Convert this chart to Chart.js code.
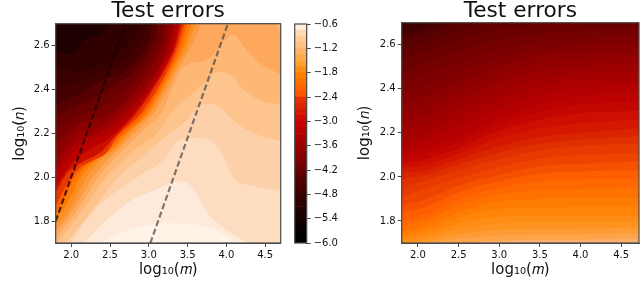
<!DOCTYPE html>
<html>
<head>
<meta charset="utf-8">
<script src="https://cdn.jsdelivr.net/npm/chart.js@4"></script>
<style>
html, body { margin: 0; background: #fff; width: 640px; height: 300px; overflow: hidden; }
canvas { position: absolute; top: 0; filter: blur(0.5px); }
</style>
</head>
<body>
<canvas id="left" width="290" height="300" style="left:0"></canvas>
<canvas id="bar" width="55" height="300" style="left:285px"></canvas>
<canvas id="right" width="295" height="300" style="left:345px"></canvas>
<script>
// tick labels
const xTicks = [2.0, 2.5, 3.0, 3.5, 4.0, 4.5];
const yTicks = [1.8, 2.0, 2.2, 2.4, 2.6];
const barTicks = [-6.0, -5.4, -4.8, -4.2, -3.6, -3.0, -2.4, -1.8, -1.2, -0.6];

// colorbar bands, bottom to top
const barLevels = [-6.0, -5.85, -5.7, -5.55, -5.4, -5.25, -5.1, -4.95, -4.8, -4.65, -4.5, -4.35, -4.2, -4.05, -3.9, -3.75, -3.6, -3.45, -3.3, -3.15, -3.0, -2.85, -2.7, -2.55, -2.4, -2.25, -2.1, -1.95, -1.8, -1.65, -1.5, -1.35, -1.2, -1.05, -0.9, -0.75, -0.6];
const barColors = ['#000000', '#050000', '#0a0000', '#120000', '#1a0000', '#240000', '#2c0000', '#360000', '#400000', '#4a0000', '#560000', '#640000', '#720000', '#7e0000', '#8a0000', '#960000', '#a00000', '#ac0000', '#b80000', '#c40000', '#cf0a00', '#d61800', '#dc2600', '#e23200', '#ff5500', '#ff6400', '#ff7200', '#ff8000', '#ff8f14', '#ffa030', '#ffab4c', '#ffb566', '#ffc080', '#ffcc98', '#ffdab4', '#ffeedd'];

// left panel: contour lines (log10 m, log10 n), lightest first
const leftBase = '#fff2e7';
const c0 = [[1.8, 1.5], [2.35, 1.69], [2.6, 1.74], [2.95, 1.78], [3.4, 1.79], [3.85, 1.76], [4.2, 1.69], [4.7, 1.65]];
const c1 = [[1.8, 1.55], [2.18, 1.705], [2.5, 1.82], [2.8, 1.9], [3.1, 1.945], [3.36, 1.98], [3.55, 1.96], [3.68, 1.88], [3.75, 1.84], [4.0, 1.76], [4.26, 1.705], [4.7, 1.65]];
const c2 = [[1.8, 1.6], [2.0, 1.705], [2.3, 1.85], [2.85, 2.0], [3.19, 2.08], [3.4, 2.17], [3.7, 2.18], [3.92, 2.125], [4.0, 2.065], [4.09, 2.0], [4.35, 1.96], [4.7, 1.94]];
const c3 = [[1.8, 1.66], [1.95, 1.71], [2.3, 1.86], [2.6, 2.0], [2.95, 2.1], [3.2, 2.18], [3.49, 2.26], [3.7, 2.335], [3.92, 2.32], [4.09, 2.26], [4.35, 2.2], [4.7, 2.165]];
const c4 = [[1.8, 1.69], [2.15, 1.85], [2.45, 2.0], [2.8, 2.12], [3.1, 2.2], [3.3, 2.3], [3.66, 2.41], [3.88, 2.48], [4.05, 2.465], [4.22, 2.4], [4.44, 2.35], [4.7, 2.33]];
const c5 = [[1.8, 1.72], [2.08, 1.85], [2.35, 2.0], [2.65, 2.12], [2.95, 2.22], [3.17, 2.3], [3.44, 2.5], [3.75, 2.535], [4.09, 2.65], [4.26, 2.58], [4.43, 2.52], [4.7, 2.47]];
const c6 = [[1.8, 1.75], [2.02, 1.85], [2.28, 2.0], [2.58, 2.12], [2.87, 2.22], [3.08, 2.3], [3.39, 2.5], [3.55, 2.6], [3.72, 2.72], [4.7, 2.85]];
const c7 = [[1.8, 1.78], [1.97, 1.85], [2.2, 2.0], [2.45, 2.1], [2.58, 2.13], [2.8, 2.22], [3.03, 2.3], [3.35, 2.5], [3.5, 2.6], [3.64, 2.72], [4.7, 2.85]];
const c8 = [[1.8, 1.81], [1.93, 1.87], [2.12, 2.0], [2.35, 2.085], [2.5, 2.12], [2.72, 2.2], [3.0, 2.3], [3.32, 2.5], [3.46, 2.6], [3.58, 2.72], [4.7, 2.85]];
const c9 = [[1.8, 1.84], [1.9, 1.9], [2.05, 2.0], [2.25, 2.07], [2.42, 2.1], [2.62, 2.18], [2.96, 2.3], [3.29, 2.5], [3.42, 2.6], [3.52, 2.72], [4.7, 2.85]];
const c10 = [[1.8, 1.87], [1.95, 1.97], [2.1, 2.04], [2.3, 2.08], [2.45, 2.11], [2.58, 2.18], [2.92, 2.3], [3.26, 2.5], [3.38, 2.6], [3.49, 2.72], [4.7, 2.85]];
const c11 = [[1.8, 1.93], [1.95, 2.02], [2.15, 2.07], [2.4, 2.12], [2.55, 2.18], [2.86, 2.3], [3.22, 2.5], [3.35, 2.6], [3.45, 2.72], [4.7, 2.85]];
const c11b = [[1.8, 1.96], [2.0, 2.06], [2.25, 2.13], [2.46, 2.17], [2.83, 2.3], [3.2, 2.5], [3.33, 2.6], [3.42, 2.72], [4.7, 2.85]];
const c12 = [[1.8, 2.0], [2.0, 2.1], [2.3, 2.17], [2.5, 2.2], [2.8, 2.3], [3.18, 2.5], [3.31, 2.6], [3.4, 2.72], [4.7, 2.85]];
const c12b = [[1.8, 2.04], [2.05, 2.15], [2.35, 2.2], [2.76, 2.31], [3.15, 2.5], [3.28, 2.61], [3.36, 2.72], [4.7, 2.85]];
const c13 = [[1.8, 2.08], [2.1, 2.2], [2.37, 2.23], [2.72, 2.33], [3.12, 2.5], [3.26, 2.62], [3.32, 2.72], [4.7, 2.85]];
const c13b = [[1.8, 2.15], [2.1, 2.24], [2.55, 2.3], [3.03, 2.5], [3.2, 2.62], [3.27, 2.72], [4.7, 2.85]];
const c14 = [[1.8, 2.22], [2.1, 2.28], [2.4, 2.32], [2.95, 2.5], [3.15, 2.62], [3.22, 2.72], [4.7, 2.85]];
const c14b = [[1.8, 2.28], [2.1, 2.33], [2.4, 2.38], [2.85, 2.5], [3.07, 2.62], [3.15, 2.72], [4.7, 2.85]];
const c15 = [[1.8, 2.33], [2.1, 2.38], [2.4, 2.44], [2.75, 2.5], [3.0, 2.62], [3.08, 2.72], [4.7, 2.85]];
const c15b = [[1.8, 2.42], [2.1, 2.43], [2.35, 2.47], [2.68, 2.53], [2.93, 2.64], [3.02, 2.72], [4.7, 2.85]];
const c16 = [[1.8, 2.5], [2.1, 2.48], [2.3, 2.5], [2.6, 2.56], [2.85, 2.66], [2.95, 2.72], [4.7, 2.85]];
const c17 = [[1.8, 2.58], [2.0, 2.56], [2.15, 2.62], [2.4, 2.66], [2.55, 2.72], [4.7, 2.85]];
const c18 = [[1.8, 2.85], [4.6, 2.71], [4.7, 2.66]];
const leftCurves = [c0, c1, c2, c3, c4, c5, c6, c7, c8, c9, c10, c11, c11b, c12, c12b, c13, c13b, c14, c14b, c15, c15b, c16, c17, c18];
const leftColors = ['#feeadb', '#fddcc0', '#fcd0a8', '#fdc48e', '#fdb876', '#fda85c', '#fc9a40', '#fd8f20', '#ff7a06', '#ff6000', '#e83800', '#cc1000', '#bc0000', '#b00000', '#9c0000', '#8c0000', '#7a0000', '#6a0000', '#560000', '#440000', '#3a0000', '#300000', '#1e0000', '#fdb876'];

// dashed reference lines
const dashDark = [[1.8, 1.8], [2.7, 2.7]];
const dashGray = [[3.02, 1.7], [4.02, 2.7]];

// right panel: contour heights at shared m positions, lightest first
const rightBase = '#fdb06a';
const rightX = [1.8, 2.1, 2.5, 3.0, 3.5, 4.0, 4.72];
const rightCurves = [
    [1.68, 1.69, 1.7, 1.71, 1.715, 1.715, 1.72],
    [1.685, 1.7, 1.72, 1.735, 1.74, 1.74, 1.745],
    [1.69, 1.71, 1.74, 1.76, 1.765, 1.765, 1.77],
    [1.7, 1.725, 1.765, 1.79, 1.795, 1.795, 1.795],
    [1.72, 1.74, 1.79, 1.82, 1.825, 1.825, 1.825],
    [1.735, 1.76, 1.815, 1.855, 1.86, 1.865, 1.865],
    [1.75, 1.78, 1.84, 1.89, 1.9, 1.905, 1.905],
    [1.775, 1.805, 1.87, 1.92, 1.94, 1.945, 1.95],
    [1.8, 1.83, 1.9, 1.95, 1.98, 1.99, 1.99],
    [1.835, 1.865, 1.93, 1.98, 2.015, 2.025, 2.03],
    [1.87, 1.9, 1.96, 2.01, 2.05, 2.06, 2.07],
    [1.91, 1.95, 1.995, 2.045, 2.085, 2.1, 2.11],
    [1.95, 1.985, 2.03, 2.08, 2.12, 2.14, 2.15],
    [1.99, 2.01, 2.055, 2.11, 2.15, 2.17, 2.185],
    [2.02, 2.03, 2.08, 2.14, 2.18, 2.2, 2.22],
    [2.04, 2.055, 2.105, 2.175, 2.22, 2.245, 2.26],
    [2.06, 2.08, 2.13, 2.21, 2.26, 2.29, 2.3],
    [2.08, 2.11, 2.16, 2.24, 2.295, 2.33, 2.34],
    [2.1, 2.14, 2.19, 2.27, 2.33, 2.37, 2.38],
    [2.13, 2.17, 2.23, 2.31, 2.37, 2.405, 2.415],
    [2.16, 2.2, 2.27, 2.35, 2.41, 2.44, 2.45],
    [2.2, 2.24, 2.31, 2.39, 2.445, 2.47, 2.485],
    [2.24, 2.28, 2.35, 2.43, 2.48, 2.5, 2.52],
    [2.285, 2.325, 2.39, 2.465, 2.515, 2.535, 2.55],
    [2.33, 2.37, 2.43, 2.5, 2.55, 2.57, 2.58],
    [2.375, 2.42, 2.475, 2.54, 2.58, 2.6, 2.61],
    [2.42, 2.47, 2.52, 2.58, 2.61, 2.63, 2.64],
    [2.47, 2.52, 2.57, 2.625, 2.65, 2.665, 2.675],
    [2.52, 2.57, 2.62, 2.67, 2.69, 2.7, 2.71],
    [2.57, 2.61, 2.66, 2.71, 2.72, 2.73, 2.74],
    [2.62, 2.65, 2.7, 2.75, 2.75, 2.75, 2.75],
    [2.64, 2.67, 2.72, 2.78, 2.78, 2.78, 2.78],
    [2.66, 2.69, 2.75, 2.8, 2.8, 2.8, 2.8]
];
const rightColors = ['#fda34a', '#fe9b34', '#ff9320', '#ff8c14', '#ff8408', '#ff7c02', '#ff7200', '#fe6800', '#fc5e00', '#f55100', '#ee4400', '#e73a00', '#e03000', '#da2400', '#d41800', '#cc0f00', '#c40600', '#bc0200', '#b40000', '#ac0000', '#a40000', '#9c0000', '#940000', '#8c0000', '#840000', '#7c0000', '#740000', '#6b0000', '#620000', '#590000', '#500000', '#460000', '#3e0000'];

const fontName = '"DejaVu Sans"';
const inkColor = '#111';
const frameColor = '#4a4a4a';

// spines on all four sides
const framePlugin = {
    id: 'frame',
    afterDraw(chart) {
        const a = chart.chartArea;
        const ctx = chart.ctx;
        ctx.save();
        ctx.strokeStyle = frameColor;
        ctx.lineWidth = 1.2;
        ctx.strokeRect(a.left, a.top, a.right - a.left, a.bottom - a.top);
        ctx.restore();
    }
};

const toPoints = (pairs) => pairs.map(p => ({ x: p[0], y: p[1] }));

function band(pairs, color) {
    return {
        data: toPoints(pairs),
        backgroundColor: color,
        borderWidth: 0,
        pointRadius: 0,
        fill: 'end',
        cubicInterpolationMode: 'monotone'
    };
}

function dashed(pairs, color) {
    return {
        data: toPoints(pairs),
        borderColor: color,
        borderWidth: 2.2,
        borderDash: [6, 3],
        pointRadius: 0,
        fill: false
    };
}

function panelOptions(cfg) {
    return {
        type: 'line',
        data: { datasets: cfg.datasets },
        plugins: [{
            id: 'base',
            beforeDatasetsDraw(chart) {
                const a = chart.chartArea;
                chart.ctx.fillStyle = cfg.base;
                chart.ctx.fillRect(a.left, a.top, a.right - a.left, a.bottom - a.top);
            }
        }, framePlugin],
        options: {
            responsive: false,
            animation: false,
            layout: { padding: { left: 11, right: cfg.right, top: 0, bottom: 21 } },
            plugins: {
                legend: { display: false },
                tooltip: { enabled: false },
                title: {
                    display: true,
                    text: 'Test errors',
                    fullSize: false,
                    color: inkColor,
                    font: { family: fontName, size: 21.7, weight: 'normal', lineHeight: 1 },
                    padding: { top: 1, bottom: cfg.titleGap }
                }
            },
            scales: {
                x: {
                    type: 'linear',
                    min: 1.8,
                    max: cfg.xMax,
                    afterBuildTicks: (s) => { s.ticks = xTicks.map(v => ({ value: v })); },
                    afterFit: (s) => { s.height = 36; },
                    grid: { drawOnChartArea: false, tickLength: 4, tickColor: frameColor },
                    border: { color: frameColor },
                    ticks: {
                        maxRotation: 0,
                        padding: 2,
                        color: inkColor,
                        font: { family: fontName, size: 10 },
                        callback: (v) => v.toFixed(1)
                    },
                    title: {
                        display: true,
                        text: 'log₁₀(𝑚)',
                        color: inkColor,
                        padding: 0,
                        font: { family: fontName, size: 15 }
                    }
                },
                y: {
                    min: 1.7,
                    max: 2.7,
                    afterBuildTicks: (s) => { s.ticks = yTicks.map(v => ({ value: v })); },
                    afterFit: (s) => { s.width = cfg.yWidth; },
                    grid: { drawOnChartArea: false, tickLength: 4, tickColor: frameColor },
                    border: { color: frameColor },
                    ticks: {
                        padding: 2,
                        color: inkColor,
                        font: { family: fontName, size: 10 },
                        callback: (v) => v.toFixed(1)
                    },
                    title: {
                        display: true,
                        text: 'log₁₀(𝑛)',
                        color: inkColor,
                        padding: 0,
                        font: { family: fontName, size: 15 }
                    }
                }
            }
        }
    };
}

// Chart.js paints the last dataset first, so the lists go in reversed
const leftBands = leftCurves.map((c, i) => band(c, leftColors[i]));
new Chart(document.getElementById('left'), panelOptions({
    datasets: [dashed(dashDark, 'rgba(20,0,0,0.75)'), dashed(dashGray, 'rgba(70,70,70,0.7)')].concat(leftBands.reverse()),
    base: leftBase,
    xMax: 4.7,
    right: 9.3,
    titleGap: 1,
    yWidth: 44.7
}));

const rightBands = rightCurves.map((c, i) => band(c.map((y, j) => [rightX[j], y]), rightColors[i]));
new Chart(document.getElementById('right'), panelOptions({
    datasets: rightBands.reverse(),
    base: rightBase,
    xMax: 4.72,
    right: 1,
    titleGap: 0,
    yWidth: 45.7
}));

// colorbar
new Chart(document.getElementById('bar'), {
    type: 'bar',
    data: {
        labels: [''],
        datasets: barColors.map((color, i) => ({
            data: [[barLevels[i], barLevels[i + 1]]],
            backgroundColor: color,
            borderWidth: 0,
            barPercentage: 1,
            categoryPercentage: 1
        }))
    },
    plugins: [framePlugin],
    options: {
        responsive: false,
        animation: false,
        layout: { padding: { left: 9.7, right: 0, top: 24, bottom: 57 } },
        plugins: { legend: { display: false }, tooltip: { enabled: false } },
        scales: {
            x: { display: false, stacked: true },
            y: {
                position: 'right',
                min: -6,
                max: -0.6,
                afterBuildTicks: (s) => { s.ticks = barTicks.map(v => ({ value: v })); },
                afterFit: (s) => { s.width = 33.3; },
                grid: { drawOnChartArea: false, tickLength: 4, tickColor: frameColor },
                border: { color: frameColor },
                ticks: {
                    padding: 3,
                    color: inkColor,
                    font: { family: fontName, size: 10 },
                    callback: (v) => '−' + Math.abs(v).toFixed(1)
                }
            }
        }
    }
});
</script>
</body>
</html>
